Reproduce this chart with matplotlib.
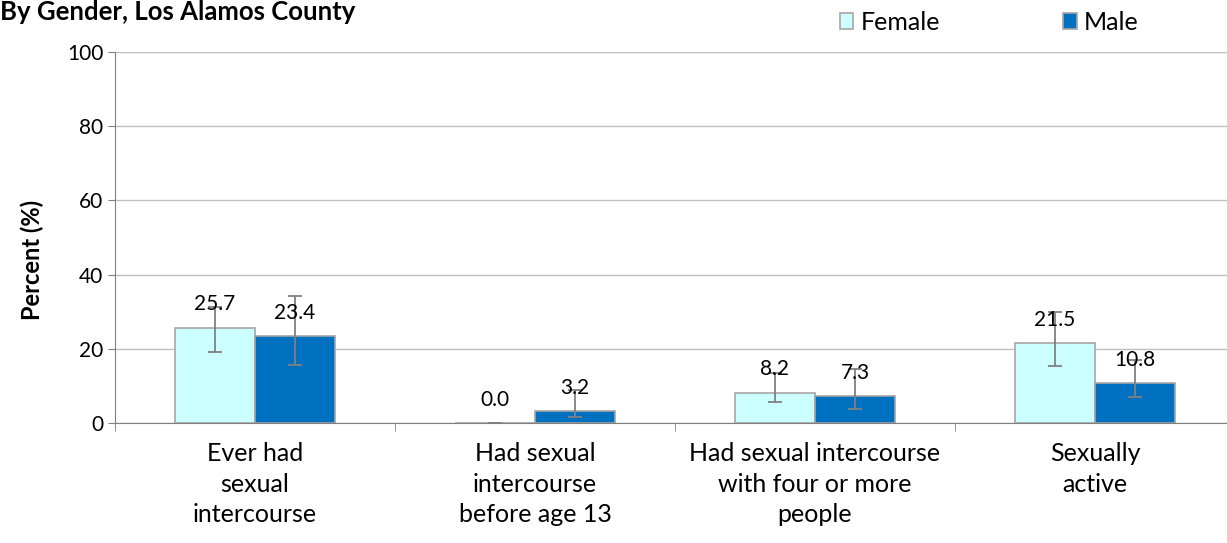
import numpy as np
import matplotlib.pyplot as plt

plt.rcParams['font.family'] = ['Lato', 'DejaVu Sans']

# data
categories = ['Ever had\nsexual\nintercourse', 'Had sexual\nintercourse\nbefore age 13',
              'Had sexual intercourse\nwith four or more\npeople', 'Sexually\nactive']
female = [25.7, 0.0, 8.2, 21.5]
male = [23.4, 3.2, 7.3, 10.8]
female_lo = [19.2, 0.0, 5.6, 15.4]
female_hi = [31.3, 0.0, 13.5, 29.9]
male_lo = [15.6, 1.6, 3.8, 7.0]
male_hi = [34.2, 8.9, 14.5, 17.0]

fig = plt.figure(figsize=(12.27, 5.43), dpi=100)
ax = fig.add_axes([115 / 1227, 120 / 543, 1120 / 1227, 371 / 543])

x = np.arange(len(categories))
w = 0.286
female = np.array(female)
male = np.array(male)
f_err = [female - np.array(female_lo), np.array(female_hi) - female]
m_err = [male - np.array(male_lo), np.array(male_hi) - male]

ax.bar(x - w / 2, female, w, color='#CCFFFF', edgecolor='#A6A6A6', linewidth=1.2,
       label='Female', zorder=2)
ax.bar(x + w / 2, male, w, color='#0070C0', edgecolor='#A6A6A6', linewidth=1.2,
       label='Male', zorder=2)
ax.errorbar(x - w / 2, female, yerr=f_err, fmt='none', ecolor='#808080',
            elinewidth=1.3, capsize=5, capthick=1.3, zorder=3)
ax.errorbar(x + w / 2, male, yerr=m_err, fmt='none', ecolor='#808080',
            elinewidth=1.3, capsize=5, capthick=1.3, zorder=3)

for xi, v in zip(x - w / 2, female):
    ax.text(xi, v + 3.6, f'{v:.1f}', ha='center', va='bottom', fontsize=15, zorder=4)
for xi, v in zip(x + w / 2, male):
    ax.text(xi, v + 3.6, f'{v:.1f}', ha='center', va='bottom', fontsize=15, zorder=4)

ax.set_xlim(-0.5, len(categories) - 0.5)
ax.set_ylim(0, 100)
ax.set_yticks([0, 20, 40, 60, 80, 100])
ax.yaxis.grid(True, color='#BFBFBF', linewidth=1)
ax.set_axisbelow(True)
ax.set_xticks(x)
ax.set_xticklabels(categories, fontsize=18, linespacing=1.38)
ax.tick_params(axis='x', length=0, pad=14)
ax.set_xticks(np.arange(len(categories) + 1) - 0.5, minor=True)
ax.tick_params(axis='x', which='minor', length=6, color='#808080')
ax.tick_params(axis='y', labelsize=15, length=5, color='#808080')
for s in ['top', 'right']:
    ax.spines[s].set_visible(False)
for s in ['left', 'bottom']:
    ax.spines[s].set_color('#808080')

ax.set_ylabel('Percent (%)', fontsize=17, fontweight='bold')
ax.yaxis.set_label_coords(-0.063, 0.44)
fig.text(0.0, 1.0, 'By Gender, Los Alamos County', fontsize=18.5, fontweight='bold',
         ha='left', va='top')

ax.legend(loc='center left', bbox_to_anchor=(702 / 1120, 1.08), ncol=2, frameon=False,
          fontsize=18, handlelength=0.55, handleheight=0.55, columnspacing=4.9,
          handletextpad=0.3)

fig.savefig('out.png', dpi=100)
